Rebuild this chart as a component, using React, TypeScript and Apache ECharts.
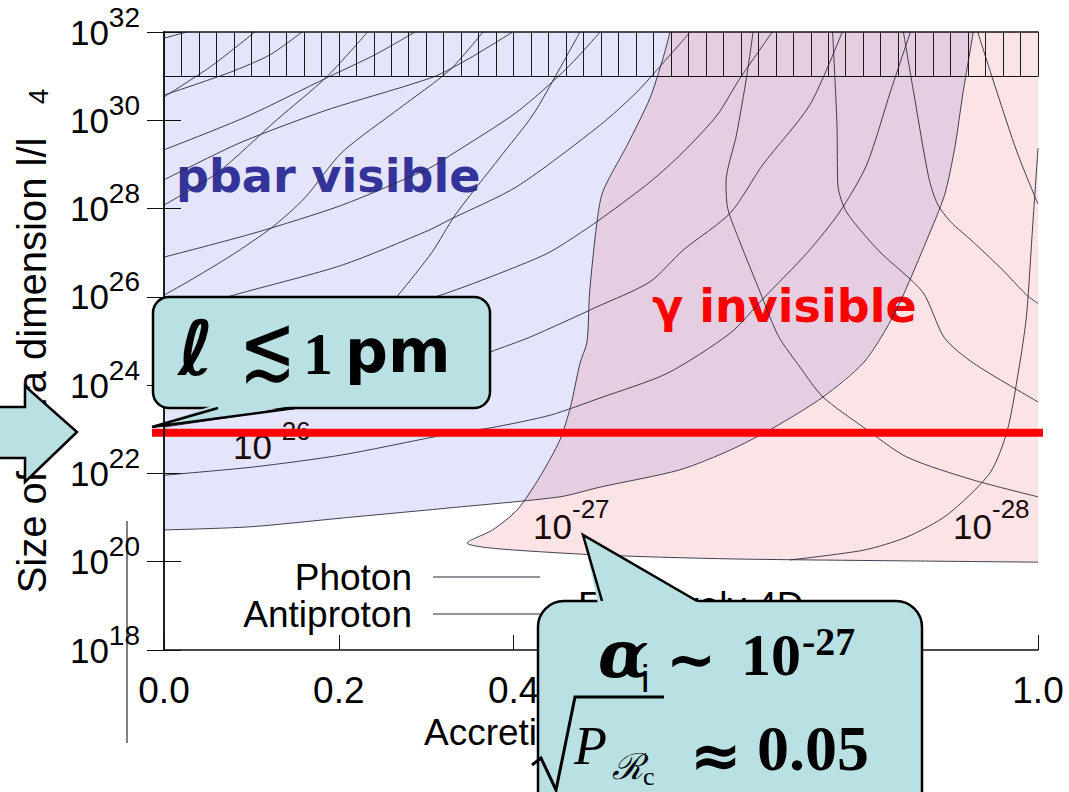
import React, { useEffect, useRef } from "react";
import * as echarts from "echarts";

// ---------------- data (x = accretion parameter, y = log10 of l/l4) ----------------
const X_RANGE = [0, 1];
const Y_EXP_RANGE = [18, 32];
const X_TICK_STEP = 0.2;
const Y_TICK_STEP = 2;
const HATCH_STEP = 0.02;
const HATCH_EXP = [31, 32];
const LIMIT_EXP = 22.92; // l <~ 1 pm

// antiproton contours
const pbar1 = [[0, 20.72], [0.098, 20.79], [0.204, 20.99], [0.327, 21.22], [0.453, 21.47], [0.499, 21.69], [0.59, 22.08], [0.648, 22.53], [0.697, 23.03], [0.754, 23.73], [0.8, 24.5], [0.827, 25.3], [0.845, 26.0], [0.873, 27.3], [0.893, 28.3], [0.905, 29.4], [0.914, 30.6], [0.926, 32]];
const pbar2 = [[0, 21.96], [0.104, 22.15], [0.204, 22.42], [0.333, 22.92], [0.373, 23.03], [0.442, 23.32], [0.499, 23.71], [0.576, 24.27], [0.648, 25.18], [0.685, 25.95], [0.736, 27.0], [0.773, 27.92], [0.804, 28.99], [0.831, 30.64], [0.854, 32]];
const pbar3 = [[0, 23.05], [0.1, 23.35], [0.2, 23.7], [0.3, 24.2], [0.373, 24.75], [0.419, 25.09], [0.495, 25.77], [0.556, 26.34], [0.594, 27.06], [0.648, 27.9], [0.685, 28.99], [0.739, 30.35], [0.776, 32]];
const pbar4 = [[0, 24.27], [0.1, 24.75], [0.2, 25.3], [0.327, 26.11], [0.399, 26.65], [0.442, 27.02], [0.495, 27.7], [0.556, 28.6], [0.594, 29.28], [0.633, 30.12], [0.659, 30.95], [0.696, 32]];
const pbar5 = [[0, 25.59], [0.089, 26.09], [0.204, 26.72], [0.302, 27.5], [0.327, 27.75], [0.404, 28.5], [0.499, 29.89], [0.541, 30.64], [0.576, 31.41], [0.602, 32]];
const pbar6 = [[0, 26.9], [0.104, 27.45], [0.204, 28.08], [0.302, 28.9], [0.327, 29.2], [0.404, 30.19], [0.461, 31.18], [0.499, 32]];
const pbar7 = [[0, 28.65], [0.087, 29.49], [0.186, 30.23], [0.308, 30.98], [0.35, 31.41], [0.399, 32]];
const pbar8 = [[0, 29.33], [0.093, 30.07], [0.188, 30.98], [0.241, 31.48], [0.287, 32]];
const pbar9 = [[0, 30.57], [0.076, 31.09], [0.121, 31.48], [0.158, 32]];
const pbar10 = [[0, 31.86], [0.026, 32]];

// photon contours
const photonL1 = [[0, 26.04], [0.027, 26.34], [0.078, 26.95], [0.124, 27.58], [0.161, 28.24], [0.204, 29.28], [0.27, 30.28], [0.327, 31.14], [0.365, 32]];
const photonL2 = [[0, 28.08], [0.061, 28.81], [0.129, 30.01], [0.186, 30.98], [0.233, 32]];
const photonL3 = [[0, 30.53], [0.053, 31.21], [0.104, 32]];
const photonL4 = [[0.17, 24.3], [0.224, 25.02], [0.268, 26.04], [0.307, 27.02], [0.333, 27.85], [0.384, 29.15], [0.422, 30.12], [0.453, 31.18], [0.476, 32]];
const photonR1 = [[0.674, 32], [0.667, 31.03], [0.655, 29.67], [0.643, 28.6], [0.645, 28.0], [0.659, 27.24], [0.682, 26.11], [0.703, 25.11], [0.728, 24.4], [0.754, 23.73], [0.8, 23.05], [0.85, 22.37], [0.926, 21.85], [1.0, 21.47]];
const photonR2 = [[0.765, 32], [0.77, 29.89], [0.771, 28.53], [0.781, 27.92], [0.819, 27.02], [0.868, 26.11], [0.893, 25.07], [0.926, 24.5], [1.0, 23.62]];
const photonR3 = [[0.846, 32], [0.858, 30.6], [0.875, 28.7], [0.885, 28.1], [0.9, 27.7], [0.926, 27.24], [0.96, 26.6], [0.987, 26.04], [1.0, 25.85]];
const photonR4 = [[0.931, 32], [0.953, 30.64], [0.976, 29.28], [1.0, 28.1]];
const photon27 = [[0.579, 32], [0.571, 31.41], [0.556, 30.5], [0.53, 29.44], [0.502, 28.38], [0.495, 27.63], [0.487, 26.11], [0.484, 24.98], [0.476, 24.5], [0.465, 23.5], [0.453, 22.76], [0.43, 21.92], [0.404, 21.17], [0.376, 20.72], [0.347, 20.42], [0.365, 20.33], [0.404, 20.26], [0.479, 20.17], [0.556, 20.11], [0.659, 20.06], [0.842, 20.02], [1.0, 19.99]];
const photon28 = [[0.716, 20.04], [0.8, 20.26], [0.85, 20.56], [0.896, 21.06], [0.945, 22.01], [0.965, 22.98], [0.98, 24.6], [0.987, 25.6], [0.994, 27.63], [1.0, 29.37]];

const antiprotonCurves = [pbar1, pbar2, pbar3, pbar4, pbar5, pbar6, pbar7, pbar8, pbar9, pbar10];
const photonCurves = [photonL1, photonL2, photonL3, photonL4, photonR1, photonR2, photonR3, photonR4, photon27, photon28];

// shaded regions built from the contours
const pbarVisibleRegion = [[0, 32], ...pbar1, [pbar1[pbar1.length - 1][0], 32]];
const gammaInvisibleRegion = [...photon27, [1, 32]];

// ---------------- styles ----------------
const SANS = "'Liberation Sans', Arial, Helvetica, sans-serif";
const SERIF = "'Liberation Serif', 'Times New Roman', serif";
const DJ_SANS = "'DejaVu Sans', sans-serif";
const DJ_SERIF = "'DejaVu Serif', serif";
const CURVE = "#2b2b40";
const TEAL = "#b9e0e2";

const GL = 164, GT = 32, GW = 874, GH = 618;

function txt(text: string, x: number, y: number, fontSize: number, o: any = {}) {
  return {
    type: "text", x, y, z: o.z ?? 4, silent: true,
    scaleX: o.sx ?? 1, scaleY: o.sy ?? 1,
    style: {
      text, fill: o.fill ?? "#000", fontSize, fontFamily: o.family ?? SANS,
      fontWeight: o.weight ?? "normal", fontStyle: o.style ?? "normal",
      textAlign: "left", textVerticalAlign: "middle", align: "left", verticalAlign: "middle",
    },
  };
}

function polygonSeries(name: string, pts: number[][], fill: string) {
  return {
    type: "custom", name, coordinateSystem: "cartesian2d", xAxisIndex: 0, yAxisIndex: 0,
    data: [[0.5, 25]], silent: true, z: 1,
    renderItem: (_p: any, api: any) => ({
      type: "polygon",
      shape: { points: pts.map((p) => api.coord(p)) },
      style: { fill },
    }),
  };
}

function curveSeries(name: string, data: number[][]) {
  return {
    type: "line", name, data, symbol: "none", showSymbol: false, smooth: 0.25,
    xAxisIndex: 0, yAxisIndex: 0, silent: true, z: 3,
    color: CURVE, itemStyle: { color: CURVE },
    lineStyle: { color: CURVE, width: 0.9 },
  };
}

const legendBase = {
  orient: "vertical", align: "right", right: 1069 - 540, icon: "rect",
  itemWidth: 107, itemHeight: 1.2, itemGap: 0, padding: 0, selectedMode: false,
  textStyle: { fontSize: 37, fontFamily: SANS, color: "#000", lineHeight: 37, padding: [0, 16, 0, 0] },
};

const option: any = {
  animation: false,
  backgroundColor: "#fff",
  grid: [
    { left: GL, top: GT, width: GW, height: GH },
    { left: GL, top: GT, width: GW, height: GH / (Y_EXP_RANGE[1] - Y_EXP_RANGE[0]) },
  ],
  legend: [
    { ...legendBase, data: ["Photon"], top: 558.5 },
    { ...legendBase, data: ["Antiproton"], top: 595.5 },
  ],
  xAxis: [
    {
      gridIndex: 0, type: "value", min: X_RANGE[0], max: X_RANGE[1], interval: X_TICK_STEP, position: "bottom", z: 6,
      axisLine: { show: true, lineStyle: { color: "#111", width: 1.5 } },
      axisTick: { show: true, inside: true, length: 15, lineStyle: { color: "#111", width: 1 } },
      splitLine: { show: false },
      axisLabel: { margin: 22, fontSize: 37, fontFamily: SANS, color: "#000", formatter: (v: number) => v.toFixed(1) },
      name: "Accretion efficiency", nameLocation: "middle", nameGap: 55,
      nameTextStyle: { fontSize: 37, fontFamily: SANS, color: "#000", padding: [0, 36, 0, 0] },
    },
    {
      gridIndex: 0, type: "value", min: X_RANGE[0], max: X_RANGE[1], position: "top", z: 6,
      axisLine: { show: true, lineStyle: { color: "#111", width: 1.5 } },
      axisTick: { show: false }, axisLabel: { show: false }, splitLine: { show: false },
    },
    {
      gridIndex: 1, type: "value", min: X_RANGE[0], max: X_RANGE[1], interval: HATCH_STEP, position: "bottom", z: 6,
      axisLine: { show: true, lineStyle: { color: "#111", width: 1 } },
      axisTick: { show: false }, axisLabel: { show: false },
      splitLine: { show: true, lineStyle: { color: "#1a1a1a", width: 1 } },
    },
  ],
  yAxis: [
    {
      gridIndex: 0, type: "value", min: Y_EXP_RANGE[0], max: Y_EXP_RANGE[1], interval: Y_TICK_STEP, position: "left", z: 6,
      axisLine: { show: true, lineStyle: { color: "#111", width: 1.5 } },
      axisTick: { show: true, inside: true, length: 17, lineStyle: { color: "#111", width: 1 } },
      splitLine: { show: false },
      axisLabel: {
        margin: 24, color: "#000", fontFamily: SANS,
        formatter: (v: number) => `{b|10}{s|${v}}`,
        rich: {
          b: { fontSize: 35, fontFamily: SANS, color: "#000", verticalAlign: "middle" },
          s: { fontSize: 28, fontFamily: SANS, color: "#000", padding: [0, 0, 30, 0], verticalAlign: "middle" },
        },
      },
      name: "Size of extra dimension l/l   {s|4}", nameLocation: "middle", nameGap: 112,
      nameTextStyle: {
        fontSize: 40, fontFamily: SANS, color: "#000",
        rich: { s: { fontSize: 28, fontFamily: SANS, color: "#000", verticalAlign: "bottom" } },
      },
    },
    {
      gridIndex: 0, type: "value", min: Y_EXP_RANGE[0], max: Y_EXP_RANGE[1], interval: Y_TICK_STEP, position: "right", z: 6,
      axisLine: { show: true, lineStyle: { color: "#111", width: 1.5 } },
      axisTick: { show: true, inside: true, length: 17, lineStyle: { color: "#111", width: 1 } },
      axisLabel: { show: false }, splitLine: { show: false },
    },
    {
      gridIndex: 1, type: "value", min: HATCH_EXP[0], max: HATCH_EXP[1], show: false,
    },
  ],
  series: [
    polygonSeries("pbar visible region", pbarVisibleRegion, "rgb(228,228,250)"),
    polygonSeries("gamma invisible region", gammaInvisibleRegion, "rgba(239,109,120,0.185)"),
    ...antiprotonCurves.map((d) => curveSeries("Antiproton", d)),
    ...photonCurves.map((d) => curveSeries("Photon", d)),
    {
      type: "custom", name: "1 pm limit", coordinateSystem: "cartesian2d", xAxisIndex: 0, yAxisIndex: 0,
      data: [[X_RANGE[0], LIMIT_EXP]], silent: true, z: 5,
      renderItem: (_p: any, api: any) => {
        const v = api.value(1);
        const a = api.coord([X_RANGE[0], v]);
        const b = api.coord([X_RANGE[1], v]);
        return { type: "line", shape: { x1: a[0] - 12, y1: a[1], x2: b[0] + 5, y2: b[1] }, style: { stroke: "#ff0000", lineWidth: 8 } };
      },
    },
  ],
  graphic: [
    // region labels
    txt("pbar visible", 176, 176, 46, { family: DJ_SANS, weight: "bold", fill: "#333399", z: 2 }),
    txt("γ invisible", 652, 306, 46, { family: DJ_SANS, weight: "bold", fill: "#ff0000", z: 2 }),
    // contour labels
    txt("10", 233, 446, 35, { fill: "#1a0a0a", z: 4 }),
    txt("-26", 273, 431, 26, { fill: "#1a0a0a", z: 4 }),
    txt("10", 533, 526, 35, { fill: "#1a0a0a", z: 4 }),
    txt("-27", 572, 509, 26, { fill: "#1a0a0a", z: 4 }),
    txt("10", 953, 526, 35, { fill: "#1a0a0a", z: 4 }),
    txt("-28", 992, 509, 26, { fill: "#1a0a0a", z: 4 }),
    txt("Effectively 4D", 578, 605, 37, { z: 4 }),
    // stray vertical line
    { type: "line", z: 4, silent: true, shape: { x1: 127, y1: 521, x2: 127, y2: 743 }, style: { stroke: "#000", lineWidth: 1 } },
    // left arrow
    {
      type: "polygon", z: 10, silent: true,
      shape: { points: [[-4, 407], [25, 407], [25, 386], [77, 432], [25, 482], [25, 458], [-4, 458]] },
      style: { fill: TEAL, stroke: "#000", lineWidth: 2.5 },
    },
    // callout 1
    { type: "rect", z: 10, silent: true, shape: { x: 153, y: 297, width: 337, height: 111, r: 16 }, style: { fill: TEAL, stroke: "#000", lineWidth: 2.5 } },
    { type: "polygon", z: 10, silent: true, shape: { points: [[214, 405], [152, 427], [299, 405]] }, style: { fill: TEAL } },
    { type: "polyline", z: 10, silent: true, shape: { points: [[218, 408], [152, 427], [295, 408]] }, style: { stroke: "#000", lineWidth: 2.5, fill: null } },
    txt("ℓ", 178, 348, 76, { family: DJ_SANS, weight: "bold", style: "italic", z: 11 }),
    txt("≲", 239, 347, 68, { family: DJ_SANS, z: 11, sy: 1.35 }),
    txt("1", 303, 354, 60, { family: SERIF, weight: "bold", z: 11 }),
    txt("pm", 345, 351, 60, { family: DJ_SANS, weight: "bold", z: 11 }),
    // callout 2
    { type: "rect", z: 10, silent: true, shape: { x: 538, y: 601, width: 384, height: 240, r: 26 }, style: { fill: TEAL, stroke: "#000", lineWidth: 2.5 } },
    { type: "polygon", z: 10, silent: true, shape: { points: [[598, 604], [583, 535], [701, 604]] }, style: { fill: TEAL } },
    { type: "polyline", z: 10, silent: true, shape: { points: [[602, 601], [583, 535], [697, 601]] }, style: { stroke: "#000", lineWidth: 2.5, fill: null } },
    txt("α", 598, 654, 66, { family: DJ_SERIF, weight: "bold", style: "italic", z: 11 }),
    txt("i", 641, 679, 38, { family: SANS, z: 11 }),
    txt("∼", 666, 659, 60, { family: DJ_SANS, weight: "bold", z: 11 }),
    txt("10", 741, 655, 60, { family: SERIF, weight: "bold", z: 11 }),
    txt("-27", 802, 641, 40, { family: SERIF, weight: "bold", z: 11 }),
    { type: "polyline", z: 11, silent: true, shape: { points: [[532, 765], [541, 758], [556, 790], [575, 697], [664, 697]] }, style: { stroke: "#000", lineWidth: 3, fill: null } },
    txt("P", 574, 746, 54, { family: SERIF, style: "italic", z: 11 }),
    txt("ℛ", 612, 766, 36, { family: DJ_SERIF, style: "italic", z: 11 }),
    txt("c", 643, 776, 26, { family: SERIF, z: 11 }),
    txt("≈", 690, 755, 62, { family: DJ_SANS, weight: "bold", z: 11 }),
    txt("0.05", 757, 748, 64, { family: SERIF, weight: "bold", z: 11 }),
  ],
};

export default function App() {
  const ref = useRef<HTMLDivElement>(null);
  useEffect(() => {
    document.body.style.margin = "0";
    const chart = echarts.init(ref.current!, null, { renderer: "svg" });
    chart.setOption(option);
    return () => chart.dispose();
  }, []);
  return <div ref={ref} style={{ width: 1069, height: 792 }} />;
}
